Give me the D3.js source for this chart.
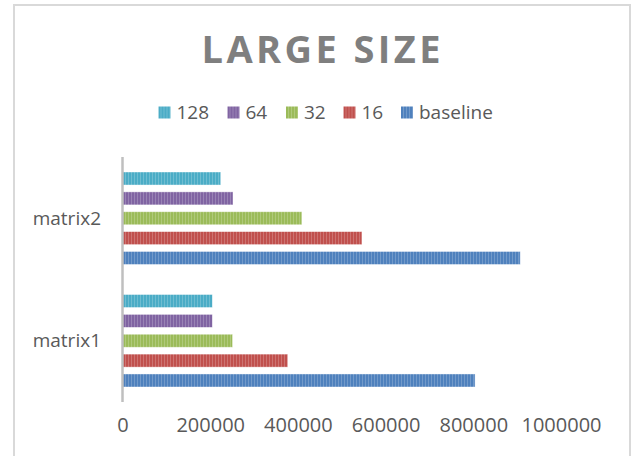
<!DOCTYPE html>
<html>
<head>
<meta charset="utf-8">
<script src="https://cdn.jsdelivr.net/npm/d3@7"></script>
<style>
  body { margin: 0; background: #fff; }
  text { font-family: "Open Sans", sans-serif; fill: #595959; }
</style>
</head>
<body>
<svg width="635" height="456"></svg>
<script>
// chart values
var categories = ["matrix1", "matrix2"];
var seriesNames = ["baseline", "16", "32", "64", "128"];
var baseline = [804000, 907000];
var s16 = [377000, 546000];
var s32 = [251000, 409000];
var s64 = [205000, 252000];
var s128 = [205000, 224000];
var xTicks = [0, 200000, 400000, 600000, 800000, 1000000];
var legendOrder = ["128", "64", "32", "16", "baseline"];

var values = { "baseline": baseline, "16": s16, "32": s32, "64": s64, "128": s128 };
var colors = { "baseline": "#4f81bd", "16": "#c0504d", "32": "#9bbb59", "64": "#8064a2", "128": "#4bacc6" };

var svg = d3.select("svg");

// outer frame
svg.append("rect")
    .attr("x", 14).attr("y", 5)
    .attr("width", 616).attr("height", 470)
    .attr("fill", "none")
    .attr("stroke", "#d9d9d9")
    .attr("stroke-width", 2);

// striped fills like the original bars
var defs = svg.append("defs");
seriesNames.forEach(function(s) {
    var p = defs.append("pattern")
        .attr("id", "pat" + s)
        .attr("patternUnits", "userSpaceOnUse")
        .attr("width", 3).attr("height", 10);
    p.append("rect").attr("width", 3).attr("height", 10).attr("fill", colors[s]);
    p.append("rect").attr("x", 2).attr("width", 1).attr("height", 10)
        .attr("fill", "#fff").attr("opacity", 0.2);
});

// title
svg.append("text")
    .attr("x", 321).attr("y", 62.5)
    .attr("text-anchor", "middle")
    .attr("textLength", 239)
    .attr("lengthAdjust", "spacing")
    .style("font-size", "38px")
    .style("font-weight", "bold")
    .style("fill", "#7f7f7f")
    .text("LARGE SIZE");

// legend
var legendX = [158.5, 227.5, 286, 343.5, 401];
var legend = svg.selectAll(".legend")
    .data(legendOrder)
    .enter().append("g")
    .attr("class", "legend")
    .attr("transform", function(d, i) { return "translate(" + legendX[i] + ",106.5)"; });

legend.append("rect")
    .attr("width", 12).attr("height", 12)
    .attr("fill", function(d) { return "url(#pat" + d + ")"; });

legend.append("text")
    .attr("x", 18).attr("y", 12.5)
    .style("font-size", "19px")
    .text(function(d) { return d; });

// scales
var x = d3.scaleLinear().domain([0, 1000000]).range([122.5, 561]);
var y0 = d3.scaleBand().domain(categories).range([402, 157]).paddingInner(0.245).paddingOuter(0.1225);
var y1 = d3.scaleBand().domain(seriesNames).range([y0.bandwidth(), 0]).paddingInner(0.345);

// bars
var groups = svg.selectAll(".cat")
    .data(categories)
    .enter().append("g")
    .attr("class", "cat")
    .attr("transform", function(d) { return "translate(0," + y0(d) + ")"; });

groups.selectAll("rect")
    .data(function(d, i) {
        return seriesNames.map(function(s) { return { key: s, value: values[s][i] }; });
    })
    .enter().append("rect")
    .attr("x", x(0))
    .attr("y", function(d) { return y1(d.key); })
    .attr("width", function(d) { return x(d.value) - x(0); })
    .attr("height", y1.bandwidth())
    .attr("fill", function(d) { return "url(#pat" + d.key + ")"; })
    .attr("stroke", "#fff")
    .attr("stroke-opacity", 0.5)
    .attr("stroke-width", 0.8);

// category labels
groups.append("text")
    .attr("x", 101)
    .attr("y", y0.bandwidth() / 2)
    .attr("dy", "0.35em")
    .attr("text-anchor", "end")
    .style("font-size", "19px")
    .text(function(d) { return d; });

// vertical axis line
svg.append("line")
    .attr("x1", x(0)).attr("x2", x(0))
    .attr("y1", 157).attr("y2", 402)
    .attr("stroke", "#bfbfbf")
    .attr("stroke-width", 2.5);

// x axis
var xAxis = svg.append("g")
    .attr("transform", "translate(0,418)")
    .call(d3.axisBottom(x).tickValues(xTicks).tickSize(0).tickPadding(0).tickFormat(d3.format("d")));
xAxis.select(".domain").remove();
xAxis.selectAll("text")
    .attr("dy", "0.72em")
    .style("font-size", "20px")
    .style("font-family", "'Open Sans', sans-serif")
    .attr("fill", "#595959");
</script>
</body>
</html>
